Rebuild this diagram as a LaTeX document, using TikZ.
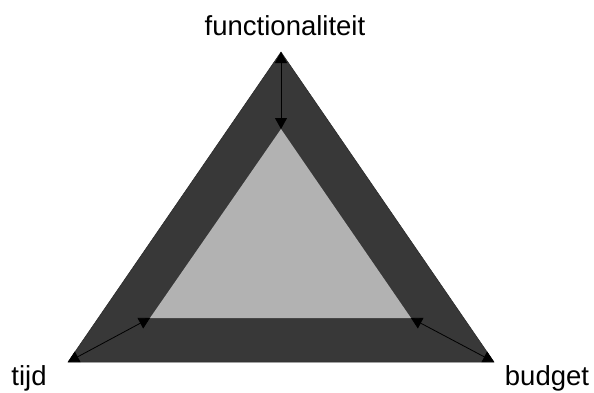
\documentclass[tikz,border=0pt]{standalone}
\usepackage{fontspec}
\setmainfont{Liberation Sans}
\usetikzlibrary{arrows.meta}
\begin{document}
\begin{tikzpicture}[x=1pt,y=-1pt,
  lbl/.style={font=\fontsize{27.5}{33}\selectfont, inner sep=0pt, anchor=base},
  conn/.style={draw=black, line width=0.8pt, {Triangle[width=12pt,length=11pt]}-{Triangle[width=12pt,length=11pt]}},
  outertri/.style={fill=black!78, draw=black!85, line width=0.5pt},
  innertri/.style={fill=black!30}]
\useasboundingbox (0,0) rectangle (594,392);
\coordinate (OT) at (281,52);
\coordinate (OL) at (68,362);
\coordinate (OR) at (494,362);
\coordinate (IT) at (281,129);
\coordinate (IL) at (150,318);
\coordinate (IR) at (411,318);
\path[outertri] (OT) -- (OL) -- (OR) -- cycle;
\path[innertri] (IT) -- (IL) -- (IR) -- cycle;
\draw[conn] (OT) -- (IT);
\draw[conn] (OL) -- (IL);
\draw[conn] (OR) -- (IR);
\node[lbl] (f) at (285,35) {functionaliteit};
\node[lbl] (t) at (29,385) {tijd};
\node[lbl] (b) at (547,385) {budget};
\end{tikzpicture}
\end{document}
